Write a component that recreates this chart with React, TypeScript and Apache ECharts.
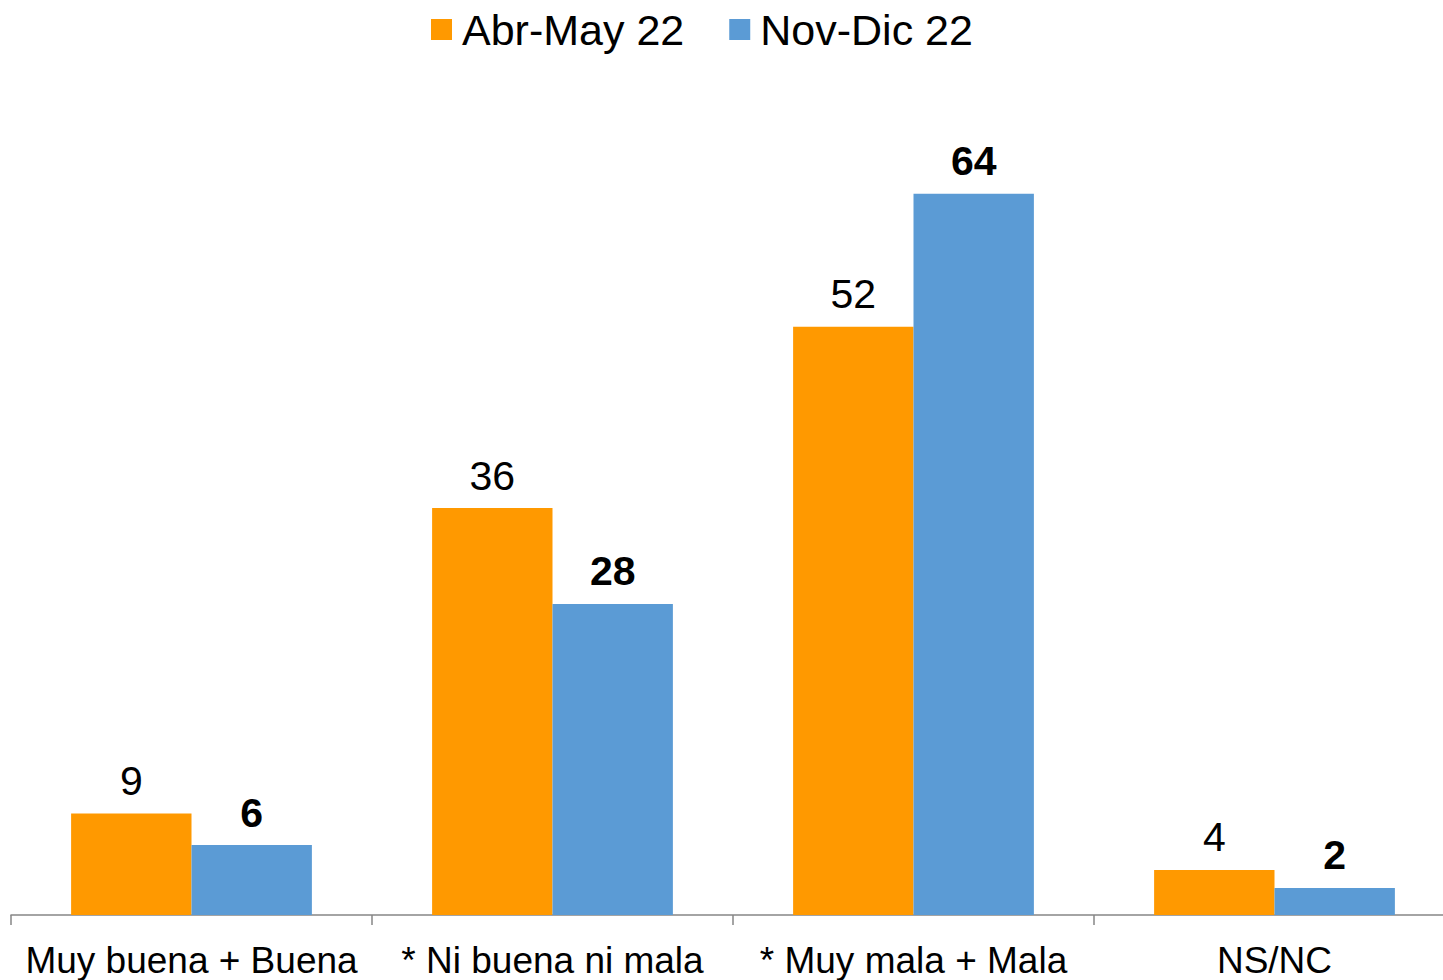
import React, { useEffect, useRef } from "react";
import * as echarts from "echarts";

const categories = ["Muy buena + Buena", "* Ni buena ni mala", "* Muy mala + Mala", "NS/NC"];
const seriesNames = ["Abr-May 22", "Nov-Dic 22"];
const abrMay = [9, 36.1, 52.2, 4];
const novDic = [6.2, 27.6, 64, 2.4];

const FONT = "'Liberation Sans', Arial, sans-serif";

export default function App() {
  const ref = useRef<HTMLDivElement>(null);
  useEffect(() => {
    if (!ref.current) return;
    const chart = echarts.init(ref.current, null, { renderer: "svg" });
    chart.setOption({
      animation: false,
      textStyle: { fontFamily: FONT },
      legend: {
        left: 426,
        top: 3,
        itemWidth: 21,
        itemHeight: 21,
        itemGap: 45,
        icon: "rect",
        textStyle: { fontSize: 43, color: "#000", fontFamily: FONT, padding: [0, 0, 0, 5] },
        data: seriesNames,
      },
      grid: { left: 11, right: 15, top: 126, bottom: 65 },
      xAxis: {
        type: "category",
        data: categories,
        axisLine: { lineStyle: { color: "#868686", width: 1.5 } },
        axisTick: { show: true, length: 10, lineStyle: { color: "#868686", width: 1.5 } },
        axisLabel: { fontSize: 37, color: "#000", fontFamily: FONT, margin: 27, interval: 0 },
      },
      yAxis: { type: "value", min: 0, max: 70, show: false, splitLine: { show: false } },
      series: [
        {
          name: seriesNames[0],
          type: "bar",
          data: abrMay,
          itemStyle: { color: "#FF9900" },
          barGap: "0%",
          barCategoryGap: "33.3%",
          label: {
            show: true,
            position: "top",
            distance: 12,
            fontSize: 41,
            color: "#000",
            fontFamily: FONT,
            formatter: (p: any) => String(Math.round(p.value)),
          },
        },
        {
          name: seriesNames[1],
          type: "bar",
          data: novDic,
          itemStyle: { color: "#5B9BD5" },
          barGap: "0%",
          barCategoryGap: "33.3%",
          label: {
            show: true,
            position: "top",
            distance: 12,
            fontSize: 41,
            fontWeight: "bold",
            color: "#000",
            fontFamily: FONT,
            formatter: (p: any) => String(Math.round(p.value)),
          },
        },
      ],
    });
    return () => chart.dispose();
  }, []);
  return (
    <div style={{ position: "fixed", left: 0, top: 0, width: 1443, height: 980, overflow: "hidden", background: "#fff" }}>
      <div ref={ref} style={{ width: 1470, height: 980 }} />
    </div>
  );
}
